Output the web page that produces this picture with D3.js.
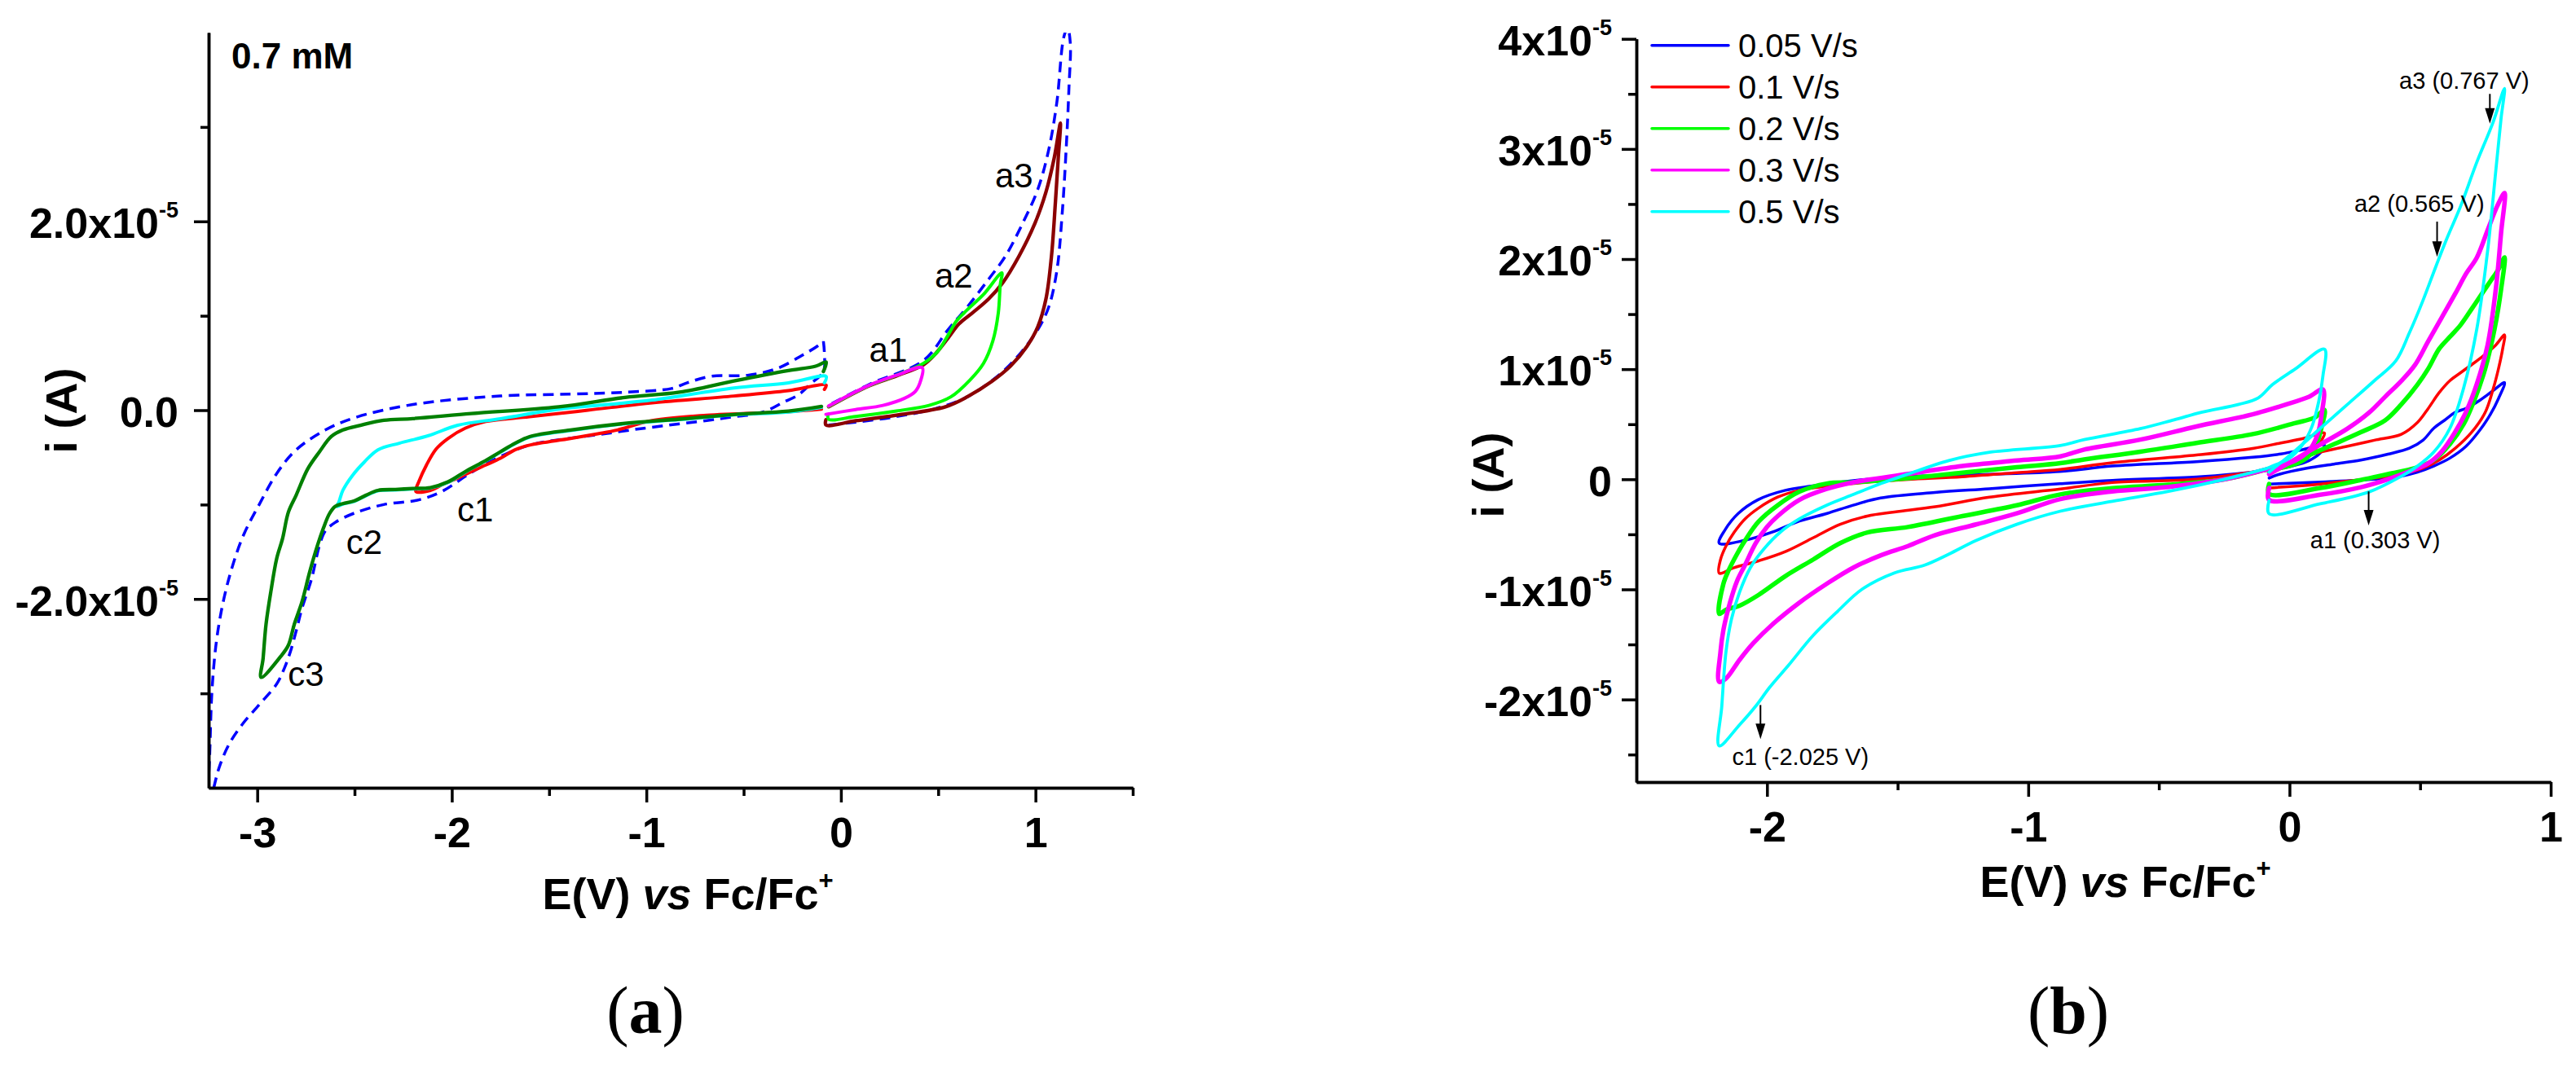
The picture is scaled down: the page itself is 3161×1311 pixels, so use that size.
<!DOCTYPE html>
<html><head><meta charset="utf-8">
<script src="https://cdn.jsdelivr.net/npm/d3@7"></script>
<style>
html,body{margin:0;padding:0;background:#fff;}
svg{display:block;}
</style></head><body>
<svg id="chart" width="3161" height="1311"></svg>
<script>
// ===== DATA (E in V vs Fc/Fc+, i in units of 1e-5 A) =====
// Panel (a): 0.7 mM, different switching potentials
const aDashNeg = [[-0.09,0.73],[-0.085,0.6],[-0.09,0.41],[-0.155,0.28],[-0.22,0.16],[-0.30,0.08],[-0.37,0.005],[-0.44,-0.04],[-0.55,-0.07],[-0.69,-0.11],[-0.89,-0.16],[-1.08,-0.21],[-1.25,-0.26],[-1.40,-0.30],[-1.60,-0.37],[-1.75,-0.49],[-1.90,-0.66],[-2.05,-0.86],[-2.17,-0.95],[-2.35,-1.00],[-2.50,-1.09],[-2.60,-1.19],[-2.65,-1.28],[-2.68,-1.43],[-2.72,-1.78],[-2.77,-2.10],[-2.80,-2.34],[-2.83,-2.56],[-2.86,-2.73],[-2.90,-2.90],[-2.99,-3.12],[-3.07,-3.31],[-3.14,-3.52],[-3.19,-3.75],[-3.22,-3.97],[-3.26,-4.4],[-3.245,-3.68],[-3.233,-2.98],[-3.21,-2.45],[-3.175,-2.03],[-3.13,-1.67],[-3.07,-1.32],[-2.99,-1.00],[-2.90,-0.67],[-2.80,-0.42],[-2.65,-0.21],[-2.50,-0.08],[-2.20,0.06],[-1.75,0.15],[-1.39,0.17],[-1.11,0.19],[-0.87,0.23],[-0.79,0.29],[-0.665,0.36],[-0.48,0.37],[-0.33,0.44],[-0.20,0.58],[-0.12,0.68],[-0.09,0.73]];
const aRedNeg = [[-0.10,0.01],[-0.27,-0.017],[-0.69,-0.053],[-0.97,-0.11],[-1.15,-0.21],[-1.25,-0.25],[-1.39,-0.30],[-1.60,-0.37],[-1.675,-0.42],[-1.75,-0.51],[-1.825,-0.58],[-1.90,-0.65],[-1.97,-0.72],[-2.05,-0.79],[-2.11,-0.85],[-2.185,-0.86],[-2.17,-0.76],[-2.13,-0.58],[-2.08,-0.41],[-2.02,-0.30],[-1.93,-0.19],[-1.825,-0.12],[-1.60,-0.07],[-1.30,0.0],[-0.97,0.078],[-0.55,0.15],[-0.27,0.207],[-0.076,0.265],[-0.085,0.22]];
const aCyanNeg = [[-0.10,0.03],[-0.27,-0.02],[-0.55,-0.05],[-0.83,-0.10],[-1.11,-0.145],[-1.39,-0.215],[-1.60,-0.285],[-1.675,-0.355],[-1.75,-0.445],[-1.84,-0.555],[-1.93,-0.655],[-2.02,-0.765],[-2.11,-0.825],[-2.20,-0.835],[-2.29,-0.845],[-2.38,-0.855],[-2.44,-0.905],[-2.50,-0.965],[-2.56,-0.995],[-2.59,-1.02],[-2.58,-0.97],[-2.56,-0.85],[-2.51,-0.69],[-2.45,-0.55],[-2.38,-0.42],[-2.27,-0.35],[-2.12,-0.27],[-1.97,-0.16],[-1.75,-0.09],[-1.45,0.01],[-1.20,0.06],[-0.97,0.107],[-0.55,0.236],[-0.27,0.29],[-0.076,0.357],[-0.085,0.29]];
const aGreenNeg = [[-0.10,0.04],[-0.27,-0.01],[-0.55,-0.046],[-0.83,-0.095],[-1.11,-0.14],[-1.39,-0.21],[-1.60,-0.28],[-1.675,-0.35],[-1.75,-0.44],[-1.84,-0.55],[-1.93,-0.65],[-2.02,-0.76],[-2.11,-0.82],[-2.20,-0.83],[-2.29,-0.84],[-2.38,-0.85],[-2.44,-0.90],[-2.50,-0.96],[-2.56,-0.99],[-2.60,-1.02],[-2.63,-1.10],[-2.66,-1.25],[-2.69,-1.43],[-2.73,-1.71],[-2.77,-2.03],[-2.81,-2.27],[-2.84,-2.49],[-2.88,-2.61],[-2.98,-2.83],[-2.97,-2.63],[-2.955,-2.27],[-2.93,-1.92],[-2.90,-1.57],[-2.87,-1.36],[-2.84,-1.08],[-2.80,-0.90],[-2.74,-0.62],[-2.68,-0.44],[-2.62,-0.28],[-2.56,-0.21],[-2.47,-0.16],[-2.35,-0.107],[-2.20,-0.089],[-1.90,-0.036],[-1.45,0.035],[-1.11,0.135],[-0.83,0.19],[-0.55,0.31],[-0.27,0.42],[-0.13,0.466],[-0.076,0.51],[-0.09,0.41]];
const aDashPos = [[-0.063,-0.157],[0.076,-0.127],[0.286,-0.068],[0.495,0.022],[0.649,0.141],[0.816,0.379],[0.928,0.617],[1.012,0.854],[1.068,1.092],[1.11,1.479],[1.137,2.074],[1.159,2.817],[1.172,3.413],[1.179,3.888],[1.165,4.05],[1.145,3.947],[1.11,3.264],[1.068,2.758],[1.012,2.34],[0.928,1.954],[0.844,1.627],[0.76,1.39],[0.649,1.092],[0.551,0.854],[0.425,0.527],[0.146,0.274],[-0.063,0.051]];
const aBrownPos = [[-0.063,0.036],[0.146,0.259],[0.286,0.363],[0.425,0.482],[0.481,0.586],[0.551,0.765],[0.607,0.914],[0.677,1.032],[0.76,1.18],[0.83,1.345],[0.914,1.627],[0.998,1.984],[1.054,2.312],[1.096,2.669],[1.128,3.04],[1.117,2.669],[1.103,2.22],[1.082,1.627],[1.054,1.18],[1.012,0.884],[0.956,0.676],[0.872,0.468],[0.775,0.304],[0.649,0.141],[0.537,0.036],[0.286,-0.053],[0.076,-0.112],[-0.077,-0.157],[-0.077,-0.10]];
const aLimePos = [[-0.063,0.04],[0.146,0.262],[0.286,0.37],[0.425,0.497],[0.495,0.616],[0.551,0.795],[0.593,0.943],[0.649,1.062],[0.733,1.226],[0.827,1.455],[0.819,1.33],[0.809,1.032],[0.781,0.735],[0.733,0.497],[0.663,0.319],[0.565,0.141],[0.453,0.051],[0.286,-0.008],[0.076,-0.067],[-0.063,-0.097],[-0.067,-0.05]];
const aMagentaPos = [[-0.063,0.045],[0.146,0.265],[0.286,0.37],[0.418,0.45],[0.411,0.32],[0.383,0.20],[0.327,0.126],[0.216,0.051],[0.076,0.007],[-0.077,-0.044]];
const aNoteText = ["a1","a2","a3","c1","c2","c3"];
const aNotePos = [[0.243,0.64],[0.58,1.43],[0.89,2.49],[-1.88,-1.05],[-2.45,-1.39],[-2.75,-2.79]];
const aXTicks = [-3,-2,-1,0,1];
const aXTickLabels = ["-3","-2","-1","0","1"];
const aXMinor = [-2.5,-1.5,-0.5,0.5,1.5];
const aYTicks = [-2,0,2];
const aYTickLabels = ["-2.0x10","0.0","2.0x10"];
const aYTickSups = ["-5","","-5"];
const aYMinor = [-3,-1,1,3];

// Panel (b): scan rates
const bNames = ["0.05 V/s","0.1 V/s","0.2 V/s","0.3 V/s","0.5 V/s"];
const bBluePos = [[-0.078,-0.043],[0.118,-0.025],[0.325,0.0],[0.428,0.029],[0.49,0.065],[0.552,0.12],[0.614,0.192],[0.676,0.30],[0.728,0.444],[0.769,0.589],[0.80,0.733],[0.823,0.878],[0.78,0.806],[0.728,0.716],[0.676,0.644],[0.635,0.608],[0.593,0.535],[0.552,0.463],[0.511,0.355],[0.459,0.282],[0.377,0.228],[0.273,0.174],[0.17,0.138],[0.066,0.101],[-0.037,0.047],[-0.078,0.011]];
const bBlueNeg = [[-0.087,0.08],[-0.2,0.05],[-0.356,0.02],[-0.678,-0.01],[-0.879,-0.04],[-1.15,-0.086],[-1.357,-0.12],[-1.565,-0.17],[-1.67,-0.235],[-1.77,-0.31],[-1.876,-0.38],[-1.98,-0.48],[-2.085,-0.555],[-2.183,-0.58],[-2.16,-0.457],[-2.11,-0.31],[-2.034,-0.185],[-1.93,-0.10],[-1.826,-0.061],[-1.67,-0.012],[-1.462,0.025],[-1.15,0.045],[-0.879,0.07],[-0.678,0.12],[-0.356,0.16],[-0.141,0.2],[-0.033,0.23],[0.053,0.27],[0.134,0.31],[0.118,0.24],[0.075,0.17],[0.01,0.12],[-0.054,0.09],[-0.087,0.08]];
const bRedPos = [[-0.078,-0.079],[0.118,-0.043],[0.325,0.011],[0.428,0.047],[0.511,0.101],[0.573,0.174],[0.635,0.282],[0.697,0.426],[0.749,0.607],[0.78,0.823],[0.80,1.004],[0.816,1.185],[0.823,1.311],[0.79,1.22],[0.738,1.113],[0.697,1.04],[0.655,0.968],[0.614,0.896],[0.573,0.787],[0.531,0.643],[0.49,0.517],[0.428,0.409],[0.325,0.355],[0.222,0.30],[0.118,0.246],[0.015,0.174],[-0.078,0.065]];
const bRedNeg = [[-0.087,0.085],[-0.356,0.0],[-0.678,-0.03],[-0.877,-0.088],[-1.148,-0.162],[-1.356,-0.249],[-1.512,-0.297],[-1.616,-0.334],[-1.72,-0.409],[-1.824,-0.532],[-1.928,-0.655],[-2.032,-0.741],[-2.126,-0.803],[-2.183,-0.853],[-2.178,-0.73],[-2.157,-0.606],[-2.126,-0.483],[-2.084,-0.36],[-2.032,-0.261],[-1.959,-0.162],[-1.876,-0.10],[-1.772,-0.064],[-1.616,-0.027],[-1.46,-0.002],[-1.252,0.023],[-1.044,0.06],[-0.877,0.09],[-0.678,0.15],[-0.356,0.22],[-0.141,0.28],[-0.033,0.33],[0.053,0.37],[0.134,0.42],[0.123,0.356],[0.096,0.262],[0.053,0.18],[-0.012,0.12],[-0.087,0.085]];
const bGreenPos = [[-0.078,-0.043],[-0.078,-0.133],[0.118,-0.079],[0.273,-0.007],[0.377,0.047],[0.48,0.101],[0.552,0.174],[0.614,0.318],[0.666,0.498],[0.707,0.715],[0.749,1.004],[0.785,1.365],[0.81,1.726],[0.823,2.015],[0.80,1.907],[0.769,1.799],[0.738,1.69],[0.697,1.546],[0.655,1.402],[0.614,1.294],[0.573,1.185],[0.531,1.004],[0.49,0.86],[0.428,0.68],[0.366,0.535],[0.273,0.427],[0.17,0.318],[0.066,0.21],[-0.037,0.101],[-0.078,0.065]];
const bGreenNeg = [[-0.087,0.09],[-0.248,0.0],[-0.463,-0.05],[-0.678,-0.08],[-0.877,-0.137],[-1.044,-0.236],[-1.252,-0.334],[-1.46,-0.433],[-1.616,-0.483],[-1.72,-0.58],[-1.824,-0.73],[-1.928,-0.877],[-2.032,-1.05],[-2.105,-1.148],[-2.157,-1.185],[-2.183,-1.222],[-2.167,-0.95],[-2.147,-0.828],[-2.115,-0.68],[-2.084,-0.556],[-2.032,-0.384],[-1.959,-0.236],[-1.876,-0.113],[-1.772,-0.039],[-1.668,-0.027],[-1.46,0.01],[-1.252,0.06],[-1.044,0.109],[-0.877,0.146],[-0.786,0.18],[-0.571,0.25],[-0.356,0.33],[-0.141,0.41],[0.021,0.51],[0.096,0.56],[0.134,0.63],[0.123,0.473],[0.101,0.309],[0.064,0.19],[-0.001,0.12],[-0.087,0.09]];
const bMagentaPos = [[-0.078,-0.079],[-0.078,-0.187],[0.118,-0.14],[0.273,-0.072],[0.377,0.0],[0.459,0.072],[0.531,0.144],[0.583,0.253],[0.635,0.433],[0.676,0.614],[0.717,0.866],[0.759,1.227],[0.79,1.733],[0.81,2.24],[0.823,2.60],[0.795,2.48],[0.759,2.266],[0.717,2.013],[0.676,1.868],[0.635,1.688],[0.583,1.47],[0.531,1.254],[0.48,1.037],[0.428,0.893],[0.366,0.749],[0.304,0.604],[0.222,0.46],[0.118,0.316],[0.015,0.171],[-0.078,0.045]];
const bMagentaNeg = [[-0.087,0.09],[-0.248,0.0],[-0.463,-0.07],[-0.678,-0.11],[-0.877,-0.18],[-1.044,-0.31],[-1.20,-0.41],[-1.356,-0.507],[-1.46,-0.606],[-1.564,-0.69],[-1.668,-0.80],[-1.772,-0.95],[-1.876,-1.12],[-1.98,-1.32],[-2.053,-1.49],[-2.105,-1.64],[-2.157,-1.81],[-2.183,-1.84],[-2.178,-1.567],[-2.167,-1.37],[-2.142,-1.123],[-2.115,-0.926],[-2.084,-0.778],[-2.043,-0.58],[-2.0,-0.433],[-1.959,-0.334],[-1.876,-0.187],[-1.772,-0.088],[-1.668,-0.027],[-1.46,0.048],[-1.252,0.121],[-1.044,0.17],[-0.877,0.208],[-0.786,0.27],[-0.571,0.36],[-0.356,0.48],[-0.141,0.59],[-0.012,0.68],[0.075,0.75],[0.128,0.816],[0.123,0.59],[0.107,0.403],[0.075,0.262],[0.021,0.169],[-0.054,0.11],[-0.087,0.09]];
const bCyanPos = [[-0.078,-0.19],[-0.078,-0.313],[0.118,-0.223],[0.304,-0.115],[0.428,0.028],[0.49,0.12],[0.552,0.246],[0.614,0.463],[0.666,0.824],[0.717,1.365],[0.759,2.087],[0.79,2.809],[0.81,3.28],[0.823,3.55],[0.779,3.24],[0.717,2.88],[0.655,2.48],[0.604,2.196],[0.562,1.943],[0.51,1.618],[0.459,1.33],[0.407,1.076],[0.325,0.896],[0.222,0.68],[0.118,0.463],[0.015,0.246],[-0.078,0.066]];
const bCyanNeg = [[-0.087,0.098],[-0.248,0.0],[-0.463,-0.11],[-0.678,-0.2],[-0.877,-0.29],[-1.044,-0.409],[-1.20,-0.556],[-1.304,-0.68],[-1.397,-0.78],[-1.512,-0.85],[-1.637,-1.00],[-1.73,-1.20],[-1.824,-1.42],[-1.918,-1.69],[-1.99,-1.89],[-2.043,-2.06],[-2.105,-2.23],[-2.183,-2.42],[-2.173,-2.06],[-2.157,-1.567],[-2.136,-1.27],[-2.105,-1.025],[-2.063,-0.80],[-2.011,-0.63],[-1.949,-0.48],[-1.876,-0.36],[-1.772,-0.236],[-1.668,-0.137],[-1.564,-0.039],[-1.46,0.048],[-1.304,0.17],[-1.148,0.245],[-0.877,0.306],[-0.786,0.36],[-0.571,0.46],[-0.442,0.54],[-0.334,0.61],[-0.194,0.68],[-0.119,0.74],[-0.065,0.86],[0.021,1.0],[0.134,1.181],[0.128,0.94],[0.112,0.707],[0.085,0.473],[0.048,0.309],[-0.001,0.19],[-0.065,0.12],[-0.087,0.098]];
const bNoteText = ["a3 (0.767 V)","a2 (0.565 V)","a1 (0.303 V)","c1 (-2.025 V)"];
const bNotePos = [[0.669,3.62],[0.497,2.50],[0.328,-0.55],[-1.872,-2.52]];
const bArrowE = [0.767,0.565,0.303,-2.025];
const bArrowFrom = [3.50,2.34,-0.11,-2.05];
const bArrowTo = [3.23,2.02,-0.42,-2.36];
const bXTicks = [-2,-1,0,1];
const bXTickLabels = ["-2","-1","0","1"];
const bXMinor = [-1.5,-0.5,0.5];
const bYTicks = [-2,-1,0,1,2,3,4];
const bYTickLabels = ["-2x10","-1x10","0","1x10","2x10","3x10","4x10"];
const bYTickSups = ["-5","-5","","-5","-5","-5","-5"];
const bYMinor = [-2.5,-1.5,-0.5,0.5,1.5,2.5,3.5];

// ===== DRAWING =====
const FONT = "'Liberation Sans', Arial, Helvetica, sans-serif";
const SERIF = "'Liberation Serif', 'Times New Roman', serif";
const svg = d3.select("#chart");
svg.append("rect").attr("width",3161).attr("height",1311).attr("fill","#fff");

function drawPanel(cfg){
  const x = d3.scaleLinear().domain(cfg.xDomain).range([cfg.left, cfg.right]);
  const y = d3.scaleLinear().domain(cfg.yDomain).range([cfg.bottom, cfg.top]);
  const clipId = cfg.id + "-clip";
  svg.append("clipPath").attr("id", clipId).append("rect")
    .attr("x", cfg.left).attr("y", cfg.top)
    .attr("width", cfg.right - cfg.left).attr("height", cfg.bottom - cfg.top);
  const line = d3.line().x(d => x(d[0])).y(d => y(d[1])).curve(d3.curveCatmullRom.alpha(0.5));
  const g = svg.append("g").attr("clip-path", `url(#${clipId})`);
  cfg.series.forEach(s => {
    g.append("path").datum(s.data).attr("d", line)
      .attr("fill","none").attr("stroke", s.color).attr("stroke-width", s.width)
      .attr("stroke-linejoin","round").attr("stroke-linecap", s.dash ? "butt" : "round")
      .attr("stroke-dasharray", s.dash || null);
  });

  function styleAxis(ga){
    ga.attr("font-family", FONT).attr("font-size", 52).attr("font-weight","bold");
    ga.selectAll("line,path").attr("stroke","#000").attr("stroke-width",3.5);
    ga.selectAll("text").attr("fill","#000");
  }
  const gxm = svg.append("g").attr("transform",`translate(0,${cfg.bottom})`)
    .call(d3.axisBottom(x).tickValues(cfg.xMinor).tickSize(10).tickSizeOuter(0).tickFormat(() => ""));
  styleAxis(gxm);
  const gym = svg.append("g").attr("transform",`translate(${cfg.left},0)`)
    .call(d3.axisLeft(y).tickValues(cfg.yMinor).tickSize(10).tickSizeOuter(0).tickFormat(() => ""));
  styleAxis(gym);
  const gx = svg.append("g").attr("transform",`translate(0,${cfg.bottom})`)
    .call(d3.axisBottom(x).tickValues(cfg.xTicks).tickSize(18).tickSizeOuter(0).tickPadding(cfg.xPad)
      .tickFormat((d,i) => cfg.xTickLabels[i]));
  styleAxis(gx);
  const gy = svg.append("g").attr("transform",`translate(${cfg.left},0)`)
    .call(d3.axisLeft(y).tickValues(cfg.yTicks).tickSize(18).tickSizeOuter(0).tickPadding(cfg.yPad)
      .tickFormat(() => ""));
  styleAxis(gy);
  gy.selectAll(".tick text").each(function(d){
    const k = cfg.yTicks.indexOf(d);
    const t = d3.select(this).attr("dy","0.38em");
    t.append("tspan").text(cfg.yTickLabels[k]);
    if (cfg.yTickSups[k]) t.append("tspan").attr("font-size",27).attr("dy",-25).text(cfg.yTickSups[k]);
  });

  const tx = svg.append("text").attr("x", cfg.xTitle[0]).attr("y", cfg.xTitle[1])
    .attr("text-anchor","middle").attr("font-family",FONT).attr("font-size",54).attr("font-weight","bold");
  tx.append("tspan").text("E(V) ");
  tx.append("tspan").attr("font-style","italic").text("vs");
  tx.append("tspan").text(" Fc/Fc");
  tx.append("tspan").attr("font-size",31).attr("dy",-25).text("+");
  svg.append("text").attr("transform",`translate(${cfg.yTitle[0]},${cfg.yTitle[1]}) rotate(-90)`)
    .attr("text-anchor","middle").attr("font-family",FONT).attr("font-size",54).attr("font-weight","bold")
    .text("i (A)");
  const tg = svg.append("text").attr("x", cfg.tag[0]).attr("y", 1268).attr("text-anchor","middle")
    .attr("font-family",SERIF).attr("font-size",82);
  tg.append("tspan").text("(");
  tg.append("tspan").attr("font-weight","bold").text(cfg.tagLetter);
  tg.append("tspan").text(")");
  return {x, y};
}

// Panel (a)
const A = drawPanel({
  id:"pa", left:256, right:1390, top:40, bottom:967,
  xDomain:[-3.25,1.5], yDomain:[-4,4],
  xTicks:aXTicks, xTickLabels:aXTickLabels, xMinor:aXMinor,
  yTicks:aYTicks, yTickLabels:aYTickLabels, yTickSups:aYTickSups, yMinor:aYMinor,
  xPad:18, yPad:19, xTitle:[844,1116], yTitle:[94,504], tag:[792], tagLetter:"a",
  series:[
    {data:aDashNeg, color:"#0000FF", width:3.5, dash:"13,8"},
    {data:aDashPos, color:"#0000FF", width:3.5, dash:"13,8"},
    {data:aRedNeg, color:"#FF0000", width:4},
    {data:aCyanNeg, color:"#00FFFF", width:4},
    {data:aGreenNeg, color:"#008000", width:4.3},
    {data:aBrownPos, color:"#8B0000", width:4.3},
    {data:aLimePos, color:"#00FF00", width:4},
    {data:aMagentaPos, color:"#FF00FF", width:4}
  ]
});
svg.append("text").attr("x",284).attr("y",84).attr("font-family",FONT).attr("font-size",44)
  .attr("font-weight","bold").text("0.7 mM");
svg.selectAll(".anote").data(aNoteText).enter().append("text").attr("class","anote")
  .attr("x",(d,i) => A.x(aNotePos[i][0])).attr("y",(d,i) => A.y(aNotePos[i][1]) + 15)
  .attr("text-anchor","middle").attr("font-family",FONT).attr("font-size",42).text(d => d);

// Panel (b)
const bColors = ["#0000FF","#FF0000","#00FF00","#FF00FF","#00FFFF"];
const bWidths = [3.5,3.5,5.5,5.5,3.8];
const bPos = [bBluePos,bRedPos,bGreenPos,bMagentaPos,bCyanPos];
const bNeg = [bBlueNeg,bRedNeg,bGreenNeg,bMagentaNeg,bCyanNeg];
const bSeries = [];
bPos.forEach((p,k) => { bSeries.push({data:p, color:bColors[k], width:bWidths[k]}); bSeries.push({data:bNeg[k], color:bColors[k], width:bWidths[k]}); });
const B = drawPanel({
  id:"pb", left:2008, right:3130, top:47.7, bottom:960,
  xDomain:[-2.5,1], yDomain:[-2.75,4],
  xTicks:bXTicks, xTickLabels:bXTickLabels, xMinor:bXMinor,
  yTicks:bYTicks, yTickLabels:bYTickLabels, yTickSups:bYTickSups, yMinor:bYMinor,
  xPad:18, yPad:12, xTitle:[2608,1101], yTitle:[1845,583], tag:[2538], tagLetter:"b",
  series:bSeries
});
const lg = svg.append("g");
bNames.forEach((n,k) => {
  const yy = 55.7 + k*51;
  lg.append("line").attr("x1",2027).attr("x2",2121).attr("y1",yy).attr("y2",yy)
    .attr("stroke",bColors[k]).attr("stroke-width",3.5).attr("stroke-linecap","round");
  lg.append("text").attr("x",2133).attr("y",yy+14).attr("font-family",FONT).attr("font-size",40).text(n);
});
bNoteText.forEach((t,k) => {
  svg.append("text").attr("x",B.x(bNotePos[k][0])).attr("y",B.y(bNotePos[k][1]) + 10)
    .attr("text-anchor","middle").attr("font-family",FONT).attr("font-size",29).text(t);
  const ax = B.x(bArrowE[k]), y0 = B.y(bArrowFrom[k]), y1 = B.y(bArrowTo[k]);
  svg.append("line").attr("x1",ax).attr("x2",ax).attr("y1",y0).attr("y2",y1-14)
    .attr("stroke","#000").attr("stroke-width",2);
  svg.append("path").attr("d",`M${ax-6},${y1-19}L${ax+6},${y1-19}L${ax},${y1}Z`).attr("fill","#000");
});
</script></body></html>
